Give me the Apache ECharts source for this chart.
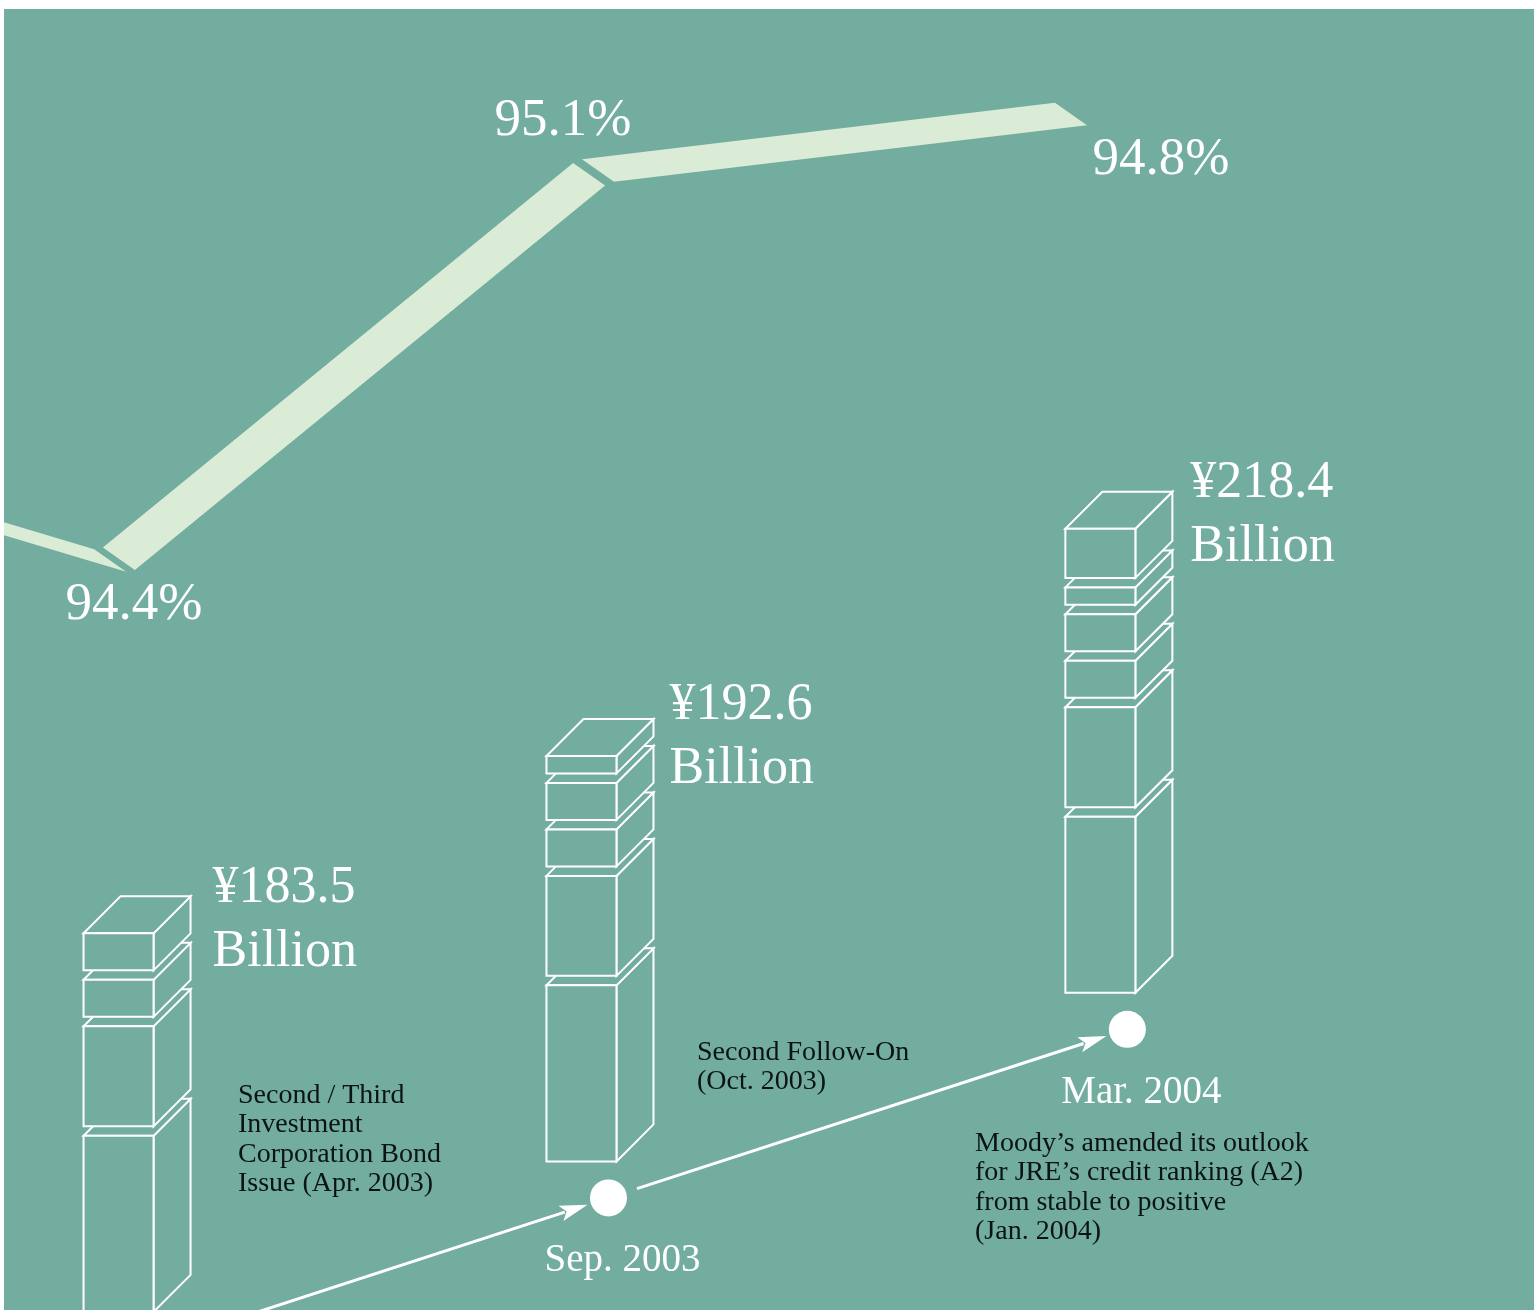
<!DOCTYPE html>
<html>
<head>
<meta charset="utf-8">
<script src="https://cdn.jsdelivr.net/npm/echarts@6/dist/echarts.min.js"></script>
<style>
html,body{margin:0;padding:0;background:#ffffff;}
#chart{width:1534px;height:1310px;}
</style>
</head>
<body>
<div id="chart"></div>
<script>
// ===================== DATA =====================
// Fiscal period ends (columns / timeline points)
const periods = ['Mar. 2003', 'Sep. 2003', 'Mar. 2004'];
const periodMonths = [0, 6, 12];                 // months after Mar. 2003
// Total assets (¥ billion)
const totalAssets = [183.5, 192.6, 218.4];
// Stacked blocks of each column (¥ billion, bottom to top), read from the block heights
const assetLayers = [
  [92.3, 52.4, 19.4, 19.4],
  [92.3, 52.4, 19.4, 19.4, 9.1],
  [92.3, 52.4, 19.4, 19.4, 9.1, 25.8]
];
// Occupancy rate ribbon (%). First point lies off the picture; estimated from the ribbon slope.
const occupancyPeriods = ['Sep. 2002', 'Mar. 2003', 'Sep. 2003', 'Mar. 2004'];
const occupancyMonths = [-6, 0, 6, 12];
const occupancyRate = [95.3, 94.4, 95.1, 94.8];
// Event annotations
const eventTexts = [
  'Second / Third\nInvestment\nCorporation Bond\nIssue (Apr. 2003)',
  'Second Follow-On\n(Oct. 2003)',
  'Moody\u2019s amended its outlook\nfor JRE\u2019s credit ranking (A2)\nfrom stable to positive\n(Jan. 2004)'
];

// ===================== STYLE / LAYOUT =====================
const TEAL = '#72ad9f', RIBBON = '#daecd5', WHITE = '#ffffff', INK = '#0b1412';
const SERIF = '"Liberation Serif", "Times New Roman", serif';

const BOX_W = 70, DEPTH = 37, GAP = 9.5;          // block drawing
const MONTH_WARP = 0.342;                          // perspective compression of the time axis
const FLOOR_RISE = 13.94;                          // floor rises to the right (axis units / month)
function warp(m) { return m + MONTH_WARP * m * (m - 12) / 36; }

const RIB_X_SCALE = 0.9737, RIB_X_OFF = -0.0434;  // ribbon sits further back
const RIB_TILT = 0.07844;                          // tilted plane of the ribbon
const RIB_CUT = [32, 22.5], RIB_TRIM = 5;
const RIB_LABEL_OFF = [[0, 0], [19, 43], [-30, -50], [90, 46]];
const COL_LABEL_OFF = [[22, -40], [16, -46], [18, -40]];

const DOT_OFF = [27, 36.5], DOT_R = 18.5;
const EVENT_POS = [[238, 1081], [697, 1038], [975, 1129]];

// ===================== RENDERERS =====================
function columnRender(params, api) {
  const i = params.dataIndex;
  const m = warp(periodMonths[i]);
  const base = api.coord([m, FLOOR_RISE * m]);
  const k = api.size([0, 1])[1];
  const cx = base[0], x0 = cx - BOX_W / 2, x1 = cx + BOX_W / 2;
  let yb = base[1], yt = yb;
  const children = [];
  assetLayers[i].forEach(function (v) {
    yt = yb - v * k;
    const st = { fill: TEAL, stroke: WHITE, lineWidth: 2 };
    children.push({ type: 'polygon', shape: { points: [[x1, yb], [x1 + DEPTH, yb - DEPTH], [x1 + DEPTH, yt - DEPTH], [x1, yt]] }, style: st });
    children.push({ type: 'polygon', shape: { points: [[x0, yt], [x1, yt], [x1 + DEPTH, yt - DEPTH], [x0 + DEPTH, yt - DEPTH]] }, style: st });
    children.push({ type: 'polygon', shape: { points: [[x0, yb], [x1, yb], [x1, yt], [x0, yt]] }, style: st });
    yb = yt - GAP;
  });
  const cornerX = x1 + DEPTH, cornerY = yt - DEPTH;
  const off = COL_LABEL_OFF[i];
  children.push({
    type: 'text', x: cornerX + off[0], y: cornerY + off[1],
    style: { text: '\u00a5' + totalAssets[i].toFixed(1) + '\nBillion', fill: WHITE, font: '52px ' + SERIF, align: 'left', verticalAlign: 'top', lineHeight: 64 }
  });
  return { type: 'group', children: children };
}

function ribPoint(api, j) {
  const m = occupancyMonths[j];
  return api.coord([RIB_X_OFF + RIB_X_SCALE * m, occupancyRate[j] + RIB_TILT * m]);
}

function ribbonRender(params, api) {
  const j = params.dataIndex;
  const children = [];
  const Q = ribPoint(api, j);
  if (j > 0) {
    const P = ribPoint(api, j - 1);
    const dx = Q[0] - P[0], dy = Q[1] - P[1], L = Math.hypot(dx, dy), ux = dx / L, uy = dy / L;
    const sT = RIB_TRIM, eT = (j < occupancyRate.length - 1) ? RIB_TRIM : 0;
    const A = [P[0] + ux * sT, P[1] + uy * sT], B = [Q[0] - ux * eT, Q[1] - uy * eT];
    const hx = RIB_CUT[0] / 2, hy = RIB_CUT[1] / 2;
    children.push({ type: 'polygon', shape: { points: [[A[0] - hx, A[1] - hy], [B[0] - hx, B[1] - hy], [B[0] + hx, B[1] + hy], [A[0] + hx, A[1] + hy]] }, style: { fill: RIBBON } });
  }
  if (Q[0] > 0) {
    const off = RIB_LABEL_OFF[j];
    children.push({
      type: 'text', x: Q[0] + off[0], y: Q[1] + off[1],
      style: { text: occupancyRate[j].toFixed(1) + '%', fill: WHITE, font: '53px ' + SERIF, align: 'center', verticalAlign: 'middle' }
    });
  }
  return { type: 'group', children: children };
}

function dotPos(api, i) {
  const m = warp(periodMonths[i]);
  const b = api.coord([m, FLOOR_RISE * m]);
  return [b[0] + DOT_OFF[0], b[1] + DOT_OFF[1]];
}

function timelineRender(params, api) {
  const i = params.dataIndex;
  const D = dotPos(api, i);
  const children = [];
  if (i > 0) {
    const S = dotPos(api, i - 1);
    const dx = D[0] - S[0], dy = D[1] - S[1], L = Math.hypot(dx, dy), ux = dx / L, uy = dy / L;
    const start = [S[0] + ux * 30, S[1] + uy * 30];
    const tip = [D[0] - ux * 22, D[1] - uy * 22];
    const HL = 28, HW = 8;
    const hb = [tip[0] - ux * HL, tip[1] - uy * HL];
    children.push({ type: 'line', shape: { x1: start[0], y1: start[1], x2: hb[0] + ux * 4, y2: hb[1] + uy * 4 }, style: { stroke: WHITE, lineWidth: 3 } });
    children.push({ type: 'polygon', shape: { points: [tip, [hb[0] - uy * HW, hb[1] + ux * HW], [hb[0] + ux * 6, hb[1] + uy * 6], [hb[0] + uy * HW, hb[1] - ux * HW]] }, style: { fill: WHITE } });
  }
  children.push({ type: 'circle', shape: { cx: D[0], cy: D[1], r: DOT_R }, style: { fill: WHITE } });
  if (D[1] + 80 < 1310) {
    children.push({
      type: 'text', x: D[0] + 14, y: D[1] + 63,
      style: { text: periods[i], fill: WHITE, font: '39px ' + SERIF, align: 'center', verticalAlign: 'middle' }
    });
  }
  return { type: 'group', children: children };
}

// ===================== CHART =====================
const chart = echarts.init(document.getElementById('chart'), null, { renderer: 'canvas' });
chart.setOption({
  animation: false,
  backgroundColor: '#ffffff',
  grid: { left: 4, top: 9, right: 0, bottom: 0, show: true, backgroundColor: TEAL, borderWidth: 0, containLabel: false },
  xAxis: { type: 'value', min: -1.4, max: 17.3, show: false },
  yAxis: [
    { type: 'value', min: 1, max: 683, show: false },
    { type: 'value', min: 92.1605, max: 96.0557, show: false }
  ],
  series: [
    { type: 'custom', name: 'Occupancy rate', xAxisIndex: 0, yAxisIndex: 1, clip: true, silent: true,
      data: occupancyRate.map(function (v, j) { return [occupancyMonths[j], v]; }), renderItem: ribbonRender },
    { type: 'custom', name: 'Total assets', xAxisIndex: 0, yAxisIndex: 0, clip: true, silent: true,
      data: totalAssets.map(function (v, i) { return [periodMonths[i], v]; }), renderItem: columnRender },
    { type: 'custom', name: 'Timeline', xAxisIndex: 0, yAxisIndex: 0, clip: true, silent: true,
      data: periods.map(function (p, i) { return [periodMonths[i], 0]; }), renderItem: timelineRender }
  ],
  graphic: eventTexts.map(function (t, e) {
    return { type: 'text', left: EVENT_POS[e][0], top: EVENT_POS[e][1], silent: true,
      style: { text: t, fill: INK, font: '28px ' + SERIF, lineHeight: 29.3 } };
  })
});
</script>
</body>
</html>
